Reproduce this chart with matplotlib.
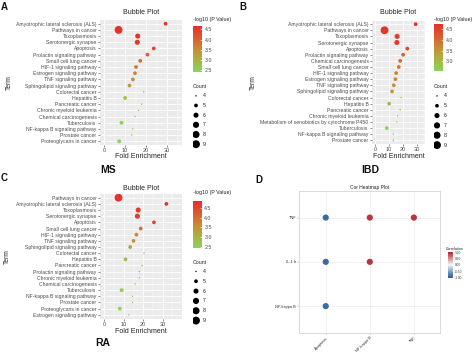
import numpy as np
import matplotlib
matplotlib.use("Agg")
import matplotlib.pyplot as plt
from matplotlib.colors import LinearSegmentedColormap, Normalize
from matplotlib.cm import ScalarMappable

plt.rcParams['font.family'] = ['Liberation Sans', 'DejaVu Sans']

# ---------------- data ----------------
ms_terms = ["Amyotrophic lateral sclerosis (ALS)", "Pathways in cancer", "Toxoplasmosis",
            "Serotonergic synapse", "Apoptosis", "Prolactin signaling pathway",
            "Small cell lung cancer", "HIF-1 signaling pathway", "Estrogen signaling pathway",
            "TNF signaling pathway", "Sphingolipid signaling pathway", "Colorectal cancer",
            "Hepatitis B", "Pancreatic cancer", "Chronic myeloid leukemia",
            "Chemical carcinogenesis", "Tuberculosis", "NF-kappa B signaling pathway",
            "Prostate cancer", "Proteoglycans in cancer"]
ms_fold = [29.2, 6.9, 16.0, 15.8, 23.6, 20.6, 17.2, 15.2, 14.7, 13.7, 12.1, 18.8,
           10.0, 17.9, 16.4, 14.7, 8.3, 13.6, 13.2, 7.2]
ms_count = [5, 9, 6, 6, 5, 5, 5, 5, 5, 5, 5, 4, 5, 4, 4, 4, 5, 4, 4, 5]
ms_logp = [4.65, 4.6, 4.6, 4.55, 4.4, 4.1, 3.9, 3.7, 3.6, 3.5, 3.3, 3.0,
           2.8, 2.95, 2.9, 2.85, 2.5, 2.75, 2.7, 2.45]

ibd_terms = ["Amyotrophic lateral sclerosis (ALS)", "Pathways in cancer", "Toxoplasmosis",
             "Serotonergic synapse", "Apoptosis", "Prolactin signaling pathway",
             "Chemical carcinogenesis", "Small cell lung cancer", "HIF-1 signaling pathway",
             "Estrogen signaling pathway", "TNF signaling pathway", "Sphingolipid signaling pathway",
             "Colorectal cancer", "Hepatitis B", "Pancreatic cancer", "Chronic myeloid leukemia",
             "Metabolism of xenobiotics by cytochrome P450", "Tuberculosis",
             "NF-kappa B signaling pathway", "Prostate cancer"]
ibd_fold = [29.0, 6.7, 15.7, 15.5, 23.0, 20.0, 17.9, 16.9, 15.0, 14.5, 13.3, 12.1,
            18.6, 10.0, 17.9, 16.0, 15.5, 8.3, 13.0, 13.0]
ibd_count = [5, 9, 6, 6, 5, 5, 5, 5, 5, 5, 5, 5, 4, 5, 4, 4, 4, 5, 4, 4]
ibd_logp = [4.7, 4.65, 4.6, 4.6, 4.4, 4.15, 4.0, 3.9, 3.75, 3.7, 3.6, 3.45,
            3.2, 3.0, 3.15, 3.1, 3.05, 2.6, 2.95, 2.9]

ra_terms = ["Pathways in cancer", "Amyotrophic lateral sclerosis (ALS)", "Toxoplasmosis",
            "Serotonergic synapse", "Apoptosis", "Small cell lung cancer",
            "HIF-1 signaling pathway", "TNF signaling pathway", "Sphingolipid signaling pathway",
            "Colorectal cancer", "Hepatitis B", "Pancreatic cancer", "Prolactin signaling pathway",
            "Chronic myeloid leukemia", "Chemical carcinogenesis", "Tuberculosis",
            "NF-kappa B signaling pathway", "Prostate cancer", "Proteoglycans in cancer",
            "Estrogen signaling pathway"]
ra_fold = [7.3, 31.9, 17.4, 17.0, 25.5, 18.7, 16.5, 15.0, 13.3, 20.4, 10.9, 19.4,
           18.0, 18.0, 15.8, 8.9, 14.5, 14.5, 8.0, 12.6]
ra_count = [9, 5, 6, 6, 5, 5, 5, 5, 5, 4, 5, 4, 4, 4, 4, 5, 4, 4, 5, 4]
ra_logp = [4.8, 4.75, 4.7, 4.65, 4.5, 4.0, 3.7, 3.5, 3.3, 3.2, 2.9, 3.0,
           2.95, 2.9, 2.85, 2.6, 2.75, 2.7, 2.45, 2.6]

legend_counts = [4, 5, 6, 7, 8, 9]

cor_x = ["Apoptosis", "NF-kappa B", "TNF"]
cor_y = ["TNF", "IL-1 b", "NF-kappa B"]
cor_vals = [[-0.9, 0.9, 0.9],
            [-0.9, 0.9, np.nan],
            [-0.9, np.nan, np.nan]]

# ---------------- styling ----------------
W, H = 474, 352
fig = plt.figure(figsize=(W / 100, H / 100), dpi=100)

def box(l, t, r, b):
    return [l / W, 1 - b / H, (r - l) / W, (b - t) / H]

cmap = LinearSegmentedColormap.from_list(
    "gr", ["#86d65a", "#a9b43f", "#c98a35", "#da5a2e", "#e5302a"])
TXT = "#4d4d4d"

def size_of(c):
    d_px2 = 12.0 * (np.asarray(c, float) - 4) + 2.0
    return 0.5184 * d_px2

def bubble(ax_box, cb_box, leg_box, terms, fold, count, logp, xlim, vmin, vmax,
           cticks, title_y, termx, disease, dis_xy, letter, letter_xy, cbtitle_y,
           counttitle_y, xlab_y):
    ax = fig.add_axes(box(*ax_box))
    ax.set_facecolor("#ebebeb")
    n = len(terms)
    ypos = np.arange(n)[::-1]
    norm = Normalize(vmin, vmax)
    ax.set_xlim(*xlim)
    ax.set_ylim(-0.6, n - 0.4)
    ax.set_xticks([0, 10, 20, 30])
    ax.set_xticks([5, 15, 25, 35], minor=True)
    ax.set_yticks(ypos)
    ax.set_yticklabels(terms)
    ax.grid(True, which="major", color="white", lw=0.6)
    ax.grid(True, which="minor", axis="x", color="white", lw=0.3)
    ax.set_axisbelow(True)
    for s in ax.spines.values():
        s.set_visible(False)
    ax.tick_params(axis="y", which="major", labelsize=3.7, colors="#333333",
                   labelcolor=TXT, length=1.5, width=0.4, pad=1)
    ax.tick_params(axis="x", which="major", labelsize=4.0, colors="#333333",
                   labelcolor=TXT, length=1.5, width=0.4, pad=1)
    ax.tick_params(axis="x", which="minor", length=0)
    ax.scatter(fold, ypos, s=size_of(count), c=logp, cmap=cmap, norm=norm,
               linewidths=0, zorder=3)
    l, t, r, b = ax_box
    fig.text((l + r) / 2 / W, 1 - title_y / H, "Bubble Plot", ha="center", va="center",
             fontsize=5.0, color="#222222")
    fig.text((l + r) / 2 / W, 1 - xlab_y / H, "Fold Enrichment", ha="center", va="center",
             fontsize=5.0, color="#222222")
    fig.text(termx / W, 1 - (t + b) / 2 / H, "Term", ha="center", va="center",
             rotation=90, fontsize=4.8, color="#222222")
    fig.text(dis_xy[0] / W, 1 - dis_xy[1] / H, disease, ha="center", va="center",
             fontsize=7.5, fontweight="bold", color="#111111")
    fig.text(letter_xy[0] / W, 1 - letter_xy[1] / H, letter, ha="left", va="center",
             fontsize=7, fontweight="bold", color="#111111")
    # colorbar
    cax = fig.add_axes(box(*cb_box))
    cb = fig.colorbar(ScalarMappable(norm=norm, cmap=cmap), cax=cax)
    cb.outline.set_visible(False)
    cb.set_ticks(cticks)
    cb.set_ticklabels([f"{v:.1f}" for v in cticks])
    cax.tick_params(labelsize=3.8, labelcolor=TXT, length=1.5, width=0.4,
                    color="white", direction="in", pad=2)
    fig.text(cb_box[0] / W, 1 - cbtitle_y / H, "-log10 (P Value)", ha="left",
             va="center", fontsize=3.8, color="#222222")
    # count legend
    lax = fig.add_axes(box(*leg_box))
    lax.set_axis_off()
    lax.set_xlim(0, 1)
    lax.set_ylim(legend_counts[-1] + 0.5, legend_counts[0] - 0.5)
    lax.scatter([0.3] * len(legend_counts), legend_counts, s=size_of(legend_counts),
                color="black", linewidths=0)
    for c in legend_counts:
        lax.text(0.95, c, str(c), ha="left", va="center", fontsize=3.8, color="#222222")
    fig.text(leg_box[0] / W, 1 - counttitle_y / H, "Count", ha="left", va="center",
             fontsize=3.8, color="#222222")
    return ax

# Panel A (MS)
bubble((100, 20, 182, 145), (193, 26, 202, 72), (193, 91, 203, 149),
       ms_terms, ms_fold, ms_count, ms_logp, (-1.9, 37), 2.42, 4.66,
       [2.5, 3.0, 3.5, 4.0, 4.5], 13, 9, "MS", (108, 170), "A", (1, 7), 19.5, 86, 157)
# Panel B (IBD)
bubble((372, 20.5, 425, 144), (434, 24, 443, 71), (434, 91, 444, 150),
       ibd_terms, ibd_fold, ibd_count, ibd_logp, (-2.3, 35.7), 2.55, 4.73,
       [3.0, 3.5, 4.0, 4.5], 13, 253, "IBD", (370, 170), "B", (239, 7), 19, 87, 157)
# Panel C (RA)
bubble((100, 194, 182, 318.5), (193, 201.5, 201.5, 248.5), (193, 266.5, 203, 325.5),
       ra_terms, ra_fold, ra_count, ra_logp, (-2.2, 39.9), 2.41, 4.84,
       [2.5, 3.0, 3.5, 4.0, 4.5], 188.5, 7, "RA", (103, 343), "C", (1, 178), 192.5, 262, 331.5)

# Panel D (correlation)
axd = fig.add_axes(box(299.3, 191, 440.3, 332.7))
axd.set_facecolor("white")
axd.set_xlim(0.4, 3.6)
axd.set_ylim(0.4, 3.6)
xs = np.arange(1, len(cor_x) + 1)
ys = np.arange(len(cor_y), 0, -1)
dnorm = Normalize(-1, 1)
dcmap = LinearSegmentedColormap.from_list("rdbu", ["#2f5d9a", "#7fa3c8", "#f7f7f7", "#d98a8e", "#b2232f"])
px, py, pc = [], [], []
for i, yl in enumerate(cor_y):
    for j, xl in enumerate(cor_x):
        v = cor_vals[i][j]
        if not np.isnan(v):
            px.append(xs[j]); py.append(ys[i]); pc.append(v)
axd.scatter(px, py, c=pc, cmap=dcmap, norm=dnorm, s=20, linewidths=0, zorder=3)
axd.set_xticks(xs)
axd.set_xticklabels(cor_x, rotation=45, ha="right", rotation_mode="anchor")
axd.set_yticks(ys)
axd.set_yticklabels(cor_y)
axd.grid(True, color="#e6e6e6", lw=0.4)
axd.set_axisbelow(True)
for s in axd.spines.values():
    s.set_color("#cccccc")
    s.set_linewidth(0.5)
axd.tick_params(labelsize=2.8, labelcolor="#333333", length=1.2, width=0.3,
                color="#999999", pad=1)
fig.text(370 / W, 1 - 187.5 / H, "Cor Heatmap Plot", ha="center", va="center",
         fontsize=3.5, color="#222222")
fig.text(255 / W, 1 - 180 / H, "D", ha="left", va="center", fontsize=7,
         fontweight="bold", color="#111111")
caxd = fig.add_axes(box(447.7, 252, 452.7, 277.7))
cbd = fig.colorbar(ScalarMappable(norm=dnorm, cmap=dcmap), cax=caxd)
cbd.outline.set_visible(False)
cbd.set_ticks([-1, -0.5, 0, 0.5, 1])
cbd.set_ticklabels(["-1.00", "-0.50", "0.00", "0.50", "1.00"])
caxd.tick_params(labelsize=2.3, labelcolor="#333333", length=1, width=0.3,
                 color="white", direction="in", pad=1.5)
fig.text(446 / W, 1 - 249 / H, "Correlation", ha="left", va="center",
         fontsize=2.6, color="#222222")

fig.savefig("out.png", dpi=100)
